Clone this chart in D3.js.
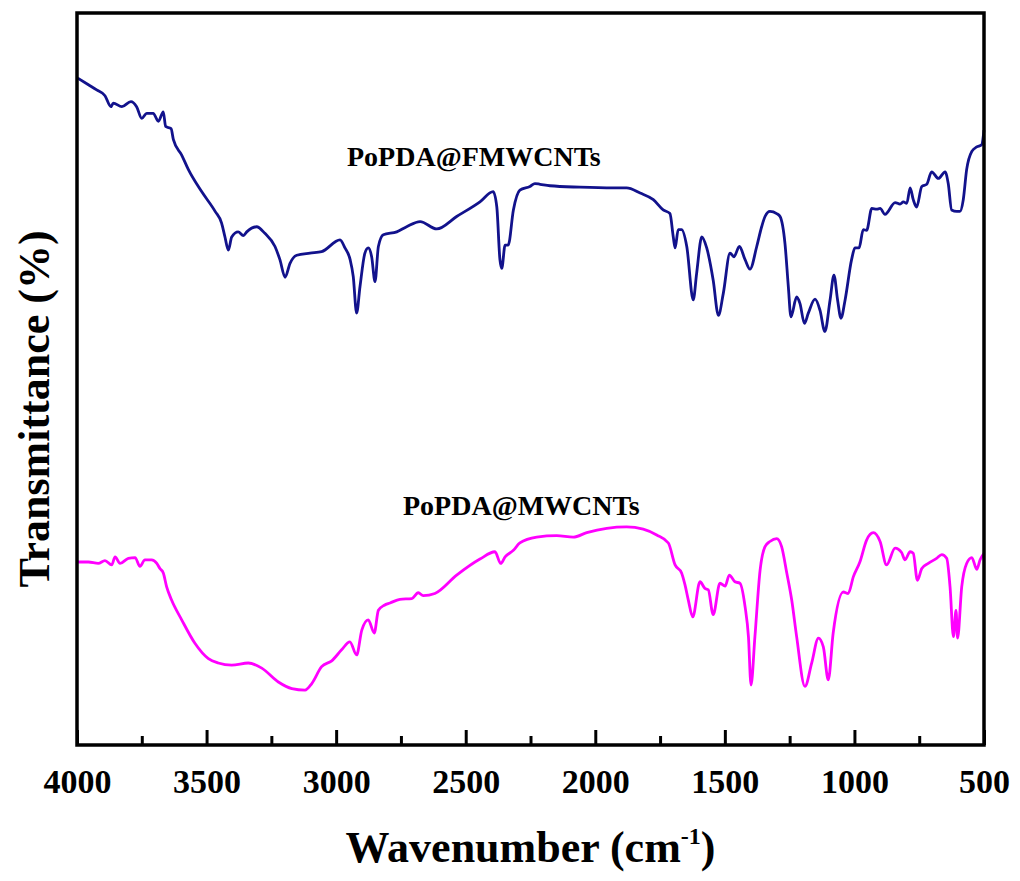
<!DOCTYPE html>
<html>
<head>
<meta charset="utf-8">
<script src="https://cdn.jsdelivr.net/npm/d3@7"></script>
<style>
  body { margin: 0; background: #fff; }
  svg { display: block; }
  text { font-family: "Liberation Serif", "Times New Roman", serif; font-weight: bold; }
</style>
</head>
<body>
<svg id="chart" width="1020" height="881"></svg>
<script>
// FTIR spectra, values (arbitrary transmittance units, 0-100)
const fmwWavenumber = [3997, 3956, 3924, 3892, 3869, 3860, 3827, 3792, 3770, 3750, 3731, 3706, 3686, 3667, 3658, 3637, 3628, 3596, 3570, 3519, 3467, 3442, 3429, 3416, 3403, 3378, 3358, 3345, 3307, 3275, 3236, 3217, 3197, 3178, 3152, 3101, 3056, 2985, 2966, 2946, 2934, 2921, 2908, 2889, 2876, 2863, 2850, 2837, 2818, 2766, 2728, 2676, 2612, 2535, 2445, 2394, 2380, 2368, 2361, 2348, 2336, 2316, 2291, 2252, 2233, 2213, 2175, 2059, 1930, 1879, 1827, 1776, 1738, 1712, 1699, 1692, 1680, 1667, 1647, 1622, 1609, 1589, 1570, 1545, 1525, 1506, 1480, 1465, 1444, 1422, 1403, 1377, 1358, 1345, 1326, 1300, 1287, 1268, 1255, 1245, 1223, 1210, 1193, 1178, 1152, 1133, 1114, 1094, 1079, 1065, 1052, 1036, 1011, 998, 982, 966, 953, 933, 914, 901, 882, 843, 824, 811, 798, 785, 773, 760, 740, 721, 702, 676, 650, 638, 625, 605, 593, 580, 567, 547, 528, 509, 500];
const fmwT = [91.1, 90.2, 89.5, 88.7, 87.2, 87.7, 87.2, 87.9, 87.2, 85.6, 86.3, 86.3, 85.2, 86.5, 84.5, 84.2, 82.7, 80.6, 78.6, 75.6, 72.9, 71.3, 69.4, 67.6, 69.4, 70.1, 69.6, 70.1, 70.8, 69.9, 68.1, 66.3, 63.9, 65.8, 66.9, 67.2, 67.4, 69.0, 67.9, 66.3, 64.0, 59.0, 62.6, 67.2, 67.9, 66.7, 63.3, 68.1, 69.7, 70.1, 70.8, 71.5, 70.5, 72.2, 74.2, 75.6, 73.5, 66.3, 65.1, 68.3, 68.3, 73.1, 75.8, 76.3, 76.7, 76.6, 76.4, 76.2, 76.1, 76.1, 75.4, 74.5, 73.1, 72.6, 69.4, 67.9, 70.4, 70.4, 68.1, 60.8, 64.4, 69.4, 67.9, 63.5, 58.7, 61.7, 67.2, 66.7, 68.1, 66.3, 65.0, 68.1, 70.8, 72.2, 72.9, 72.6, 72.2, 68.5, 62.6, 58.5, 61.2, 60.3, 57.6, 59.0, 60.9, 59.4, 56.5, 60.8, 64.2, 60.8, 58.3, 60.8, 66.3, 67.9, 67.9, 70.4, 70.3, 73.3, 73.2, 73.3, 72.5, 74.1, 73.9, 74.2, 74.0, 76.1, 74.5, 73.5, 76.3, 76.6, 78.3, 77.4, 78.3, 76.7, 73.1, 72.9, 72.9, 74.5, 78.6, 81.1, 81.7, 82.0, 84.0];

const mwWavenumber = [3997, 3956, 3918, 3892, 3866, 3853, 3834, 3802, 3776, 3757, 3738, 3712, 3692, 3680, 3667, 3654, 3635, 3596, 3545, 3493, 3455, 3403, 3339, 3287, 3223, 3171, 3120, 3094, 3056, 3017, 2979, 2947, 2921, 2901, 2876, 2853, 2837, 2814, 2792, 2754, 2708, 2683, 2664, 2619, 2535, 2445, 2387, 2365, 2348, 2316, 2291, 2226, 2149, 2085, 2033, 1956, 1879, 1815, 1763, 1718, 1692, 1667, 1654, 1641, 1624, 1596, 1577, 1564, 1545, 1519, 1499, 1483, 1461, 1442, 1422, 1409, 1399, 1384, 1364, 1345, 1326, 1300, 1281, 1261, 1242, 1223, 1191, 1165, 1139, 1120, 1101, 1082, 1043, 1024, 1004, 979, 953, 927, 901, 876, 843, 818, 805, 785, 773, 757, 740, 715, 683, 663, 644, 631, 618, 608, 602, 586, 567, 547, 528, 515, 500];
const mwT = [25.0, 25.0, 24.8, 25.2, 24.6, 25.7, 24.8, 25.5, 25.6, 24.4, 25.3, 25.3, 24.8, 24.1, 23.5, 21.6, 19.8, 17.1, 13.9, 11.8, 11.2, 10.9, 11.2, 10.5, 8.6, 7.7, 7.5, 8.4, 10.7, 11.5, 13.0, 14.1, 12.3, 15.7, 17.1, 15.3, 18.4, 19.1, 19.4, 19.9, 20.0, 20.8, 20.4, 20.7, 23.2, 25.4, 26.4, 24.8, 25.7, 26.6, 27.6, 28.4, 28.6, 28.4, 29.0, 29.6, 29.8, 29.5, 28.7, 27.6, 24.6, 23.5, 21.9, 19.8, 17.5, 22.3, 21.4, 21.2, 17.8, 22.1, 21.7, 23.2, 22.3, 22.1, 18.9, 14.8, 8.2, 14.8, 23.9, 27.1, 27.8, 28.2, 27.1, 23.5, 19.8, 14.8, 8.0, 11.2, 14.6, 13.4, 8.9, 15.3, 20.9, 20.7, 23.0, 25.0, 28.0, 29.0, 27.8, 24.6, 26.9, 26.3, 25.3, 26.4, 26.2, 22.5, 24.1, 24.8, 25.5, 26.0, 25.5, 21.6, 14.8, 18.4, 14.6, 21.6, 24.8, 25.6, 24.0, 25.3, 26.2];

const xMajorTicks = [4000, 3500, 3000, 2500, 2000, 1500, 1000, 500];
const xMinorTicks = [3750, 3250, 2750, 2250, 1750, 1250, 750];

const seriesNames = ["PoPDA@FMWCNTs", "PoPDA@MWCNTs"];
const seriesColors = ["#12128c", "#ff00ff"];

const svg = d3.select("#chart");
const plotLeft = 77, plotRight = 984, plotTop = 13, plotBottom = 745;

const x = d3.scaleLinear().domain([4000, 500]).range([plotLeft, plotRight]);
const y = d3.scaleLinear().domain([0, 100]).range([plotBottom, plotTop]);

const line = d3.line()
  .curve(d3.curveMonotoneX)
  .x((d) => x(d[0]))
  .y((d) => y(d[1]));

const series = [
  d3.zip(fmwWavenumber, fmwT),
  d3.zip(mwWavenumber, mwT),
];

// spectra
series.forEach((data, i) => {
  svg.append("path")
    .datum(data)
    .attr("fill", "none")
    .attr("stroke", seriesColors[i])
    .attr("stroke-width", 2.8)
    .attr("stroke-linejoin", "round")
    .attr("d", line);
});

// frame
svg.append("rect")
  .attr("x", plotLeft).attr("y", plotTop)
  .attr("width", plotRight - plotLeft).attr("height", plotBottom - plotTop)
  .attr("fill", "none")
  .attr("stroke", "#000")
  .attr("stroke-width", 3.5);

// bottom axis, ticks pointing inward
const xAxis = d3.axisBottom(x).tickValues(xMajorTicks).tickSize(-15).tickFormat(d3.format("d"));
const gx = svg.append("g").attr("transform", `translate(0,${plotBottom})`).call(xAxis);
gx.select(".domain").remove();
gx.selectAll(".tick line").attr("stroke", "#000").attr("stroke-width", 3);
gx.selectAll(".tick text")
  .attr("y", 48)
  .attr("dy", null)
  .attr("fill", "#000")
  .style("font-size", "34px");

const gxMinor = svg.append("g").attr("transform", `translate(0,${plotBottom})`)
  .call(d3.axisBottom(x).tickValues(xMinorTicks).tickSize(-9).tickFormat(""));
gxMinor.select(".domain").remove();
gxMinor.selectAll(".tick line").attr("stroke", "#000").attr("stroke-width", 3);

// curve labels
svg.append("text")
  .attr("x", 347).attr("y", 166)
  .style("font-size", "28px")
  .text(seriesNames[0]);

svg.append("text")
  .attr("x", 403).attr("y", 515)
  .style("font-size", "28px")
  .text(seriesNames[1]);

// axis titles
const xTitle = svg.append("text")
  .attr("x", (plotLeft + plotRight) / 2)
  .attr("y", 862)
  .attr("text-anchor", "middle")
  .style("font-size", "44px");
xTitle.append("tspan").text("Wavenumber (cm");
xTitle.append("tspan").attr("dy", -18).style("font-size", "24px").text("-1");
xTitle.append("tspan").attr("dy", 18).text(")");

svg.append("text")
  .attr("transform", "translate(49,409) rotate(-90)")
  .attr("text-anchor", "middle")
  .style("font-size", "44px")
  .text("Transmittance (%)");
</script>
</body>
</html>
